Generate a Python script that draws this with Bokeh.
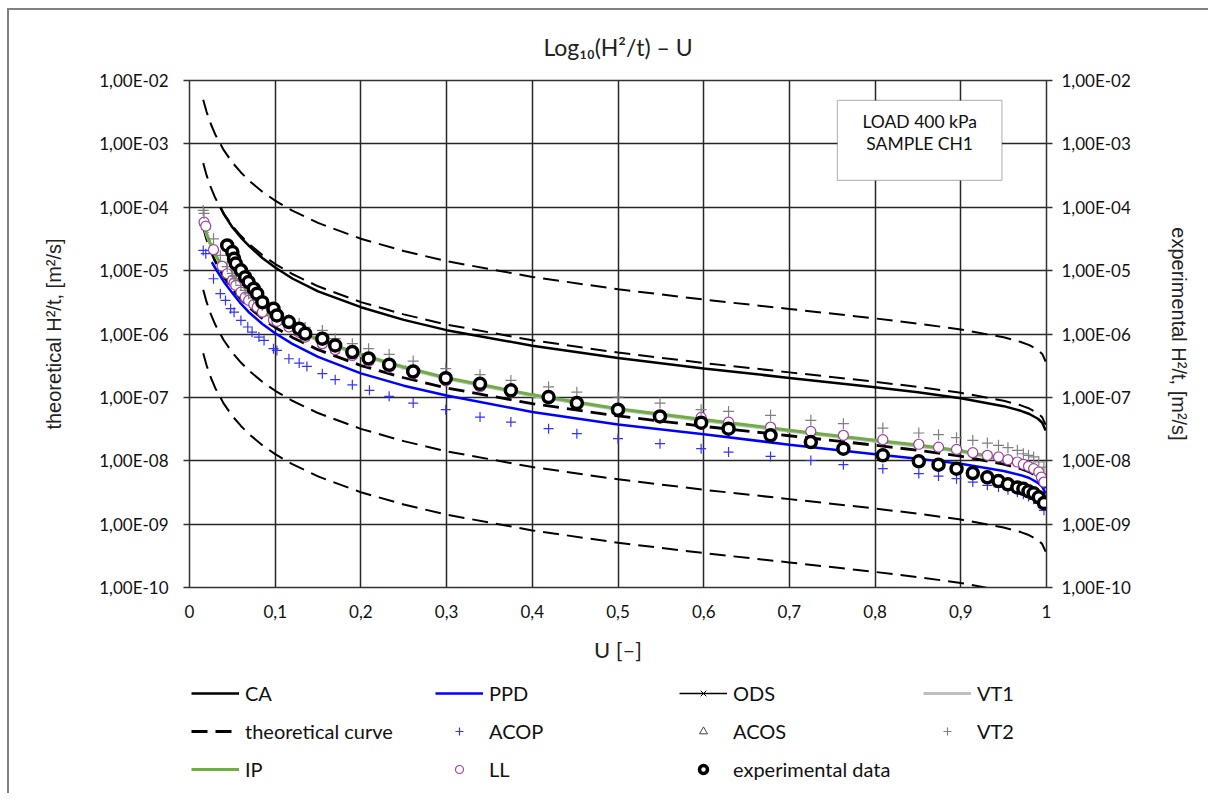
from bokeh.plotting import figure
from bokeh.layouts import column
from bokeh.models import (Range1d, LogScale, LogAxis, FixedTicker, CustomJSTickFormatter,
                          Legend, LegendItem, BoxAnnotation, Label)
from bokeh.embed import file_html
from bokeh.resources import INLINE

# ---------------- data ----------------
x_ticks = [0, 0.1, 0.2, 0.3, 0.4, 0.5, 0.6, 0.7, 0.8, 0.9, 1.0]
y_ticks = [1e-10, 1e-9, 1e-8, 1e-7, 1e-6, 1e-5, 1e-4, 1e-3, 1e-2]

u_theory = [0.016, 0.02, 0.025, 0.03, 0.04, 0.05, 0.06, 0.07, 0.085, 0.1, 0.12, 0.15, 0.2, 0.25,
            0.3, 0.4, 0.5, 0.6, 0.7, 0.8, 0.85, 0.9, 0.95, 0.97, 0.98, 0.99, 0.995, 0.999]
theory_1 = [4.97e-3, 3.18e-3, 2.04e-3, 1.41e-3, 7.96e-4, 5.09e-4, 3.54e-4, 2.60e-4, 1.76e-4, 1.27e-4,
            8.84e-5, 5.66e-5, 3.18e-5, 2.04e-5, 1.41e-5, 7.96e-6, 5.09e-6, 3.49e-6, 2.48e-6, 1.76e-6,
            1.46e-6, 1.18e-6, 8.86e-7, 7.49e-7, 6.67e-7, 5.61e-7, 4.85e-7, 3.68e-7]
theory_2 = [4.97e-4, 3.18e-4, 2.04e-4, 1.41e-4, 7.96e-5, 5.09e-5, 3.54e-5, 2.60e-5, 1.76e-5, 1.27e-5,
            8.84e-6, 5.66e-6, 3.18e-6, 2.04e-6, 1.41e-6, 7.96e-7, 5.09e-7, 3.49e-7, 2.48e-7, 1.76e-7,
            1.46e-7, 1.18e-7, 8.86e-8, 7.49e-8, 6.67e-8, 5.61e-8, 4.85e-8, 3.68e-8]
theory_3 = [4.97e-5, 3.18e-5, 2.04e-5, 1.41e-5, 7.96e-6, 5.09e-6, 3.54e-6, 2.60e-6, 1.76e-6, 1.27e-6,
            8.84e-7, 5.66e-7, 3.18e-7, 2.04e-7, 1.41e-7, 7.96e-8, 5.09e-8, 3.49e-8, 2.48e-8, 1.76e-8,
            1.46e-8, 1.18e-8, 8.86e-9, 7.49e-9, 6.67e-9, 5.61e-9, 4.85e-9, 3.68e-9]
theory_4 = [4.97e-6, 3.18e-6, 2.04e-6, 1.41e-6, 7.96e-7, 5.09e-7, 3.54e-7, 2.60e-7, 1.76e-7, 1.27e-7,
            8.84e-8, 5.66e-8, 3.18e-8, 2.04e-8, 1.41e-8, 7.96e-9, 5.09e-9, 3.49e-9, 2.48e-9, 1.76e-9,
            1.46e-9, 1.18e-9, 8.86e-10, 7.49e-10, 6.67e-10, 5.61e-10, 4.85e-10, 3.68e-10]
theory_5 = [4.97e-7, 3.18e-7, 2.04e-7, 1.41e-7, 7.96e-8, 5.09e-8, 3.54e-8, 2.60e-8, 1.76e-8, 1.27e-8,
            8.84e-9, 5.66e-9, 3.18e-9, 2.04e-9, 1.41e-9, 7.96e-10, 5.09e-10, 3.49e-10, 2.48e-10, 1.76e-10,
            1.46e-10, 1.18e-10, 8.86e-11, 7.49e-11, 6.67e-11, 5.61e-11, 4.85e-11, 3.68e-11]

u_ca = [0.036, 0.04, 0.05, 0.06, 0.07, 0.085, 0.1, 0.12, 0.15, 0.2, 0.25, 0.3, 0.4, 0.5, 0.6, 0.7,
        0.8, 0.85, 0.9, 0.95, 0.97, 0.98, 0.99, 0.995, 0.999]
ca = [1.00e-4, 7.80e-5, 4.84e-5, 3.33e-5, 2.42e-5, 1.58e-5, 1.12e-5, 7.51e-6, 4.70e-6, 2.65e-6,
      1.67e-6, 1.15e-6, 6.53e-7, 4.17e-7, 2.86e-7, 2.03e-7, 1.44e-7, 1.20e-7, 9.68e-8, 7.27e-8,
      6.14e-8, 5.47e-8, 4.60e-8, 3.98e-8, 3.00e-8]

u_ppd = [0.026, 0.03, 0.04, 0.05, 0.06, 0.07, 0.085, 0.1, 0.12, 0.15, 0.2, 0.25, 0.3, 0.4, 0.5, 0.6,
         0.7, 0.8, 0.85, 0.9, 0.95, 0.97, 0.98, 0.99, 0.995, 0.999]
ppd = [1.36e-5, 1.10e-5, 6.69e-6, 4.43e-6, 3.01e-6, 2.16e-6, 1.44e-6, 1.03e-6, 6.98e-7, 4.36e-7,
       2.39e-7, 1.53e-7, 1.07e-7, 5.89e-8, 3.72e-8, 2.62e-8, 1.79e-8, 1.27e-8, 1.08e-8, 8.97e-9,
       6.91e-9, 5.92e-9, 5.34e-9, 4.49e-9, 3.88e-9, 3.03e-9]

u_ip = [0.016, 0.02, 0.025, 0.03, 0.04, 0.05, 0.06, 0.07, 0.085, 0.1, 0.12, 0.15, 0.2, 0.25, 0.3,
        0.4, 0.5, 0.6, 0.7, 0.8, 0.85, 0.9, 0.95, 0.97, 0.98, 0.99, 0.995, 0.999]
ip = [5.57e-5, 3.82e-5, 2.55e-5, 1.83e-5, 1.03e-5, 6.62e-6, 4.60e-6, 3.43e-6, 2.34e-6, 1.71e-6,
      1.24e-6, 8.21e-7, 4.77e-7, 3.02e-7, 2.04e-7, 1.10e-7, 6.62e-8, 4.47e-8, 3.03e-8, 2.11e-8,
      1.77e-8, 1.44e-8, 1.06e-8, 8.99e-9, 8.00e-9, 6.84e-9, 6.06e-9, 4.89e-9]
vt1 = [5.35e-5, 3.67e-5, 2.45e-5, 1.76e-5, 9.89e-6, 6.36e-6, 4.42e-6, 3.29e-6, 2.25e-6, 1.64e-6,
       1.19e-6, 7.88e-7, 4.58e-7, 2.90e-7, 1.96e-7, 1.06e-7, 6.36e-8, 4.29e-8, 2.91e-8, 2.03e-8,
       1.70e-8, 1.38e-8, 1.02e-8, 8.63e-9, 7.68e-9, 6.57e-9, 5.82e-9, 4.69e-9]
ods = [5.46e-5, 3.74e-5, 2.50e-5, 1.79e-5, 1.01e-5, 6.49e-6, 4.51e-6, 3.36e-6, 2.29e-6, 1.68e-6,
       1.22e-6, 8.05e-7, 4.67e-7, 2.96e-7, 2.00e-7, 1.08e-7, 6.49e-8, 4.38e-8, 2.97e-8, 2.07e-8,
       1.73e-8, 1.41e-8, 1.04e-8, 8.81e-9, 7.84e-9, 6.70e-9, 5.94e-9, 4.79e-9]

u_exp = [0.044, 0.050, 0.052, 0.054, 0.060, 0.065, 0.069, 0.075, 0.079, 0.085, 0.098, 0.102, 0.116,
         0.128, 0.135, 0.155, 0.170, 0.190, 0.209, 0.233, 0.261, 0.299, 0.339, 0.375, 0.419, 0.452,
         0.500, 0.549, 0.597, 0.629, 0.678, 0.725, 0.763, 0.809, 0.851, 0.874, 0.895, 0.914, 0.931,
         0.944, 0.955, 0.966, 0.973, 0.979, 0.985, 0.991, 0.997]
exp_data = [2.50e-5, 1.96e-5, 1.54e-5, 1.29e-5, 1.01e-5, 7.89e-6, 6.59e-6, 5.18e-6, 4.33e-6, 3.18e-6,
            2.51e-6, 1.96e-6, 1.54e-6, 1.21e-6, 1.01e-6, 8.43e-7, 6.61e-7, 5.18e-7, 4.12e-7, 3.28e-7,
            2.57e-7, 2.01e-7, 1.64e-7, 1.29e-7, 1.01e-7, 8.13e-8, 6.40e-8, 5.01e-8, 3.99e-8, 3.21e-8,
            2.52e-8, 1.97e-8, 1.55e-8, 1.22e-8, 9.80e-9, 8.67e-9, 7.50e-9, 6.40e-9, 5.47e-9, 4.79e-9,
            4.25e-9, 3.80e-9, 3.61e-9, 3.29e-9, 3.06e-9, 2.65e-9, 2.15e-9]

u_ll = [0.017, 0.019, 0.028, 0.038, 0.044, 0.050, 0.052, 0.054, 0.060, 0.065, 0.069, 0.075, 0.079,
        0.085, 0.098, 0.102, 0.116, 0.128, 0.135, 0.155, 0.170, 0.190, 0.209, 0.233, 0.261, 0.299,
        0.339, 0.375, 0.419, 0.452, 0.500, 0.549, 0.597, 0.629, 0.678, 0.725, 0.763, 0.809, 0.851,
        0.874, 0.895, 0.914, 0.931, 0.944, 0.955, 0.966, 0.973, 0.979, 0.985, 0.991, 0.994, 0.997]
ll = [5.82e-5, 5.04e-5, 2.14e-5, 1.18e-5, 8.93e-6, 7.00e-6, 6.40e-6, 5.85e-6, 4.58e-6, 3.82e-6,
      3.39e-6, 2.93e-6, 2.65e-6, 2.21e-6, 1.67e-6, 1.58e-6, 1.29e-6, 1.06e-6, 8.93e-7, 7.03e-7,
      5.65e-7, 4.59e-7, 3.70e-7, 2.97e-7, 2.35e-7, 1.82e-7, 1.47e-7, 1.20e-7, 9.46e-8, 7.89e-8,
      6.35e-8, 5.11e-8, 4.84e-8, 4.07e-8, 3.40e-8, 2.91e-8, 2.52e-8, 2.15e-8, 1.82e-8, 1.64e-8,
      1.51e-8, 1.34e-8, 1.22e-8, 1.15e-8, 1.04e-8, 9.55e-9, 8.77e-9, 8.17e-9, 7.50e-9, 6.64e-9,
      5.53e-9, 4.61e-9]
acos = [5.70e-5, 4.95e-5, 2.10e-5, 1.16e-5, 8.80e-6, 6.90e-6, 6.30e-6, 5.75e-6, 4.50e-6, 3.76e-6,
        3.33e-6, 2.88e-6, 2.61e-6, 2.17e-6, 1.64e-6, 1.55e-6, 1.27e-6, 1.04e-6, 8.80e-7, 6.92e-7,
        5.56e-7, 4.52e-7, 3.64e-7, 2.92e-7, 2.31e-7, 1.79e-7, 1.45e-7, 1.18e-7, 9.31e-8, 7.77e-8,
        6.25e-8, 5.03e-8, 4.76e-8, 4.01e-8, 3.35e-8, 2.87e-8, 2.48e-8, 2.12e-8, 1.79e-8, 1.61e-8,
        1.49e-8, 1.32e-8, 1.20e-8, 1.13e-8, 1.02e-8, 9.40e-9, 8.63e-9, 8.04e-9, 7.38e-9, 6.54e-9,
        5.44e-9, 4.54e-9]

u_vt2 = [0.016, 0.017, 0.028, 0.036, 0.044, 0.050, 0.052, 0.054, 0.060, 0.065, 0.069, 0.075, 0.079,
         0.085, 0.098, 0.102, 0.116, 0.128, 0.135, 0.155, 0.170, 0.190, 0.209, 0.233, 0.261, 0.299,
         0.339, 0.375, 0.419, 0.452, 0.500, 0.549, 0.597, 0.629, 0.678, 0.725, 0.763, 0.809, 0.851,
         0.874, 0.895, 0.914, 0.931, 0.944, 0.955, 0.966, 0.973, 0.979, 0.985, 0.991, 0.997]
vt2 = [8.91e-5, 7.98e-5, 3.18e-5, 1.74e-5, 1.16e-5, 9.04e-6, 8.11e-6, 7.40e-6, 5.85e-6, 4.88e-6,
       4.30e-6, 3.71e-6, 3.39e-6, 2.82e-6, 2.19e-6, 2.04e-6, 1.70e-6, 1.47e-6, 1.27e-6, 1.14e-6,
       8.43e-7, 7.03e-7, 5.86e-7, 4.76e-7, 3.74e-7, 2.84e-7, 2.28e-7, 1.85e-7, 1.46e-7, 1.21e-7,
       1.01e-7, 8.13e-8, 6.40e-8, 6.01e-8, 5.20e-8, 4.34e-8, 3.85e-8, 3.28e-8, 2.74e-8, 2.58e-8,
       2.31e-8, 2.10e-8, 1.90e-8, 1.75e-8, 1.61e-8, 1.46e-8, 1.29e-8, 1.22e-8, 1.15e-8, 9.55e-9,
       7.96e-9]

u_acop = [0.016, 0.019, 0.028, 0.036, 0.042, 0.048, 0.052, 0.060, 0.068, 0.073, 0.081, 0.087, 0.098,
          0.102, 0.116, 0.128, 0.137, 0.155, 0.170, 0.190, 0.210, 0.233, 0.261, 0.299, 0.339, 0.375,
          0.419, 0.452, 0.500, 0.549, 0.597, 0.629, 0.678, 0.725, 0.763, 0.809, 0.851, 0.874, 0.895,
          0.914, 0.931, 0.944, 0.955, 0.966, 0.973, 0.979, 0.985, 0.991, 0.997]
acop = [2.08e-5, 1.85e-5, 7.45e-6, 4.33e-6, 3.39e-6, 2.51e-6, 2.21e-6, 1.64e-6, 1.29e-6, 1.07e-6,
        8.93e-7, 7.92e-7, 5.86e-7, 5.51e-7, 4.07e-7, 3.48e-7, 3.08e-7, 2.37e-7, 1.90e-7, 1.58e-7,
        1.29e-7, 1.04e-7, 8.13e-8, 6.40e-8, 4.89e-8, 4.07e-8, 3.21e-8, 2.67e-8, 2.23e-8, 1.86e-8,
        1.55e-8, 1.37e-8, 1.17e-8, 1.01e-8, 8.67e-9, 7.50e-9, 6.27e-9, 5.74e-9, 5.22e-9, 4.61e-9,
        4.09e-9, 3.85e-9, 3.50e-9, 3.18e-9, 2.95e-9, 2.74e-9, 2.46e-9, 2.13e-9, 1.65e-9]

legend_labels = ["CA", "PPD", "ODS", "VT1", "theoretical curve", "ACOP", "ACOS", "VT2",
                 "IP", "LL", "experimental data"]

# ---------------- styles ----------------
DASH = "16 8"
STY = {
    "theory": dict(line_color="black", line_width=2, line_dash=DASH),
    "theory_mid": dict(line_color="black", line_width=2.8, line_dash=DASH),
    "CA": dict(line_color="black", line_width=2.5),
    "ODS_line": dict(line_color="black", line_width=1.5),
    "ODS_pts": dict(marker="x", size=5, line_color="black", line_width=1),
    "VT1": dict(line_color="#bfbfbf", line_width=3),
    "IP": dict(line_color="#70ad47", line_width=3),
    "PPD": dict(line_color="#0000ff", line_width=2.5),
    "ACOS": dict(marker="triangle", size=9, line_color="#404040", fill_color="white", line_width=1),
    "LL": dict(marker="circle", size=10, line_color="#a040a0", fill_color="white", line_width=1.2),
    "ACOP": dict(marker="cross", size=10, line_color="#3333ff", line_width=1.2),
    "VT2": dict(marker="cross", size=11, line_color="#808080", line_width=1.2),
    "EXP": dict(marker="circle", size=11, line_color="black", fill_color="white", line_width=3.5),
}

# ---------------- main figure ----------------
TICK_FONT = "Lato"
p = figure(frame_width=857, frame_height=507, output_backend="svg", toolbar_location=None,
           x_range=Range1d(0, 1), y_range=Range1d(1e-10, 1e-2), y_axis_type="log",
           min_border_left=180, min_border_right=162, min_border_top=70, min_border_bottom=0,
           title="Log\u2081\u2080(H\u00b2/t) \u2013 U")
p.title.align = "center"
p.title.text_font = "Lato"
p.title.text_font_size = "23px"
p.title.text_font_style = "normal"
p.title.text_color = "#222222"
p.title.standoff = 40

p.outline_line_color = "#333333"
p.outline_line_width = 1.5
p.xgrid.ticker = FixedTicker(ticks=x_ticks)
p.ygrid.ticker = FixedTicker(ticks=y_ticks)
for g in (p.xgrid, p.ygrid):
    g.grid_line_color = "#262626"
    g.grid_line_width = 1.5

y_fmt = CustomJSTickFormatter(code="""
const e = Math.round(Math.log10(tick));
const a = Math.abs(e);
return '1,00E' + (e < 0 ? '-' : '+') + (a < 10 ? '0' + a : '' + a);
""")
x_fmt = CustomJSTickFormatter(code="""
const r = Math.round(tick * 10) / 10;
if (r === 0 || r === 1) { return String(r); }
return r.toFixed(1).replace('.', ',');
""")

xa = p.xaxis[0]
xa.ticker = FixedTicker(ticks=x_ticks)
xa.formatter = x_fmt
xa.axis_label = "U [\u2013]"
xa.major_tick_out = 0
xa.major_tick_in = 0
xa.minor_tick_out = 0
xa.minor_tick_in = 0
xa.axis_line_color = "#333333"
xa.major_label_standoff = 17
xa.axis_label_standoff = 15

ya = p.yaxis[0]
ya.ticker = FixedTicker(ticks=y_ticks)
ya.formatter = y_fmt
ya.axis_label = "theoretical H\u00b2/t, [m\u00b2/s]"
ya.major_tick_out = 6
ya.major_tick_in = 0
ya.minor_tick_out = 0
ya.minor_tick_in = 0
ya.axis_line_color = "#333333"
ya.major_label_standoff = 15
ya.axis_label_standoff = 31

p.extra_y_ranges = {"right": Range1d(1e-10, 1e-2)}
p.extra_y_scales = {"right": LogScale()}
ra = LogAxis(y_range_name="right", ticker=FixedTicker(ticks=y_ticks), formatter=y_fmt,
             axis_label="experimental H\u00b2/t, [m\u00b2/s]")
ra.major_tick_out = 6
ra.major_tick_in = 0
ra.minor_tick_out = 0
ra.minor_tick_in = 0
ra.axis_line_color = "#333333"
ra.major_label_standoff = 9
ra.axis_label_standoff = 34
p.add_layout(ra, "right")

for ax in (xa, ya, ra):
    ax.major_label_text_font = TICK_FONT
    ax.major_label_text_font_size = "17px"
    ax.major_label_text_color = "#111111"
    ax.axis_label_text_font_style = "normal"
    ax.axis_label_text_color = "#222222"
    ax.axis_label_text_font_size = "20px"
    ax.major_tick_line_color = "#333333"
    ax.major_tick_line_width = 1.5
xa.axis_label_text_font = "Lato"
xa.axis_label_text_font_size = "22px"
ya.axis_label_text_font = "Liberation Sans"
ra.axis_label_text_font = "Liberation Sans"


def draw_series(fig):
    """Draw every series on fig; returns the renderers keyed by legend label."""
    th = []
    for vals, key in ((theory_1, "theory"), (theory_2, "theory"), (theory_3, "theory_mid"),
                      (theory_4, "theory"), (theory_5, "theory")):
        th.append(fig.line(u_theory, vals, **STY[key]))
    out = {"theoretical curve": [th[2]]}
    out["CA"] = [fig.line(u_ca, ca, **STY["CA"])]
    out["ODS"] = [fig.line(u_ip, ods, **STY["ODS_line"]), fig.scatter(u_ip, ods, **STY["ODS_pts"])]
    out["VT1"] = [fig.line(u_ip, vt1, **STY["VT1"])]
    out["IP"] = [fig.line(u_ip, ip, **STY["IP"])]
    out["PPD"] = [fig.line(u_ppd, ppd, **STY["PPD"])]
    out["ACOS"] = [fig.scatter(u_ll, acos, **STY["ACOS"])]
    out["LL"] = [fig.scatter(u_ll, ll, **STY["LL"])]
    out["ACOP"] = [fig.scatter(u_acop, acop, **STY["ACOP"])]
    out["VT2"] = [fig.scatter(u_vt2, vt2, **STY["VT2"])]
    out["experimental data"] = [fig.scatter(u_exp, exp_data, **STY["EXP"])]
    return out


draw_series(p)

# annotation box
p.add_layout(BoxAnnotation(left=0.756, right=0.948, top=4.84e-3, bottom=2.65e-4,
                           fill_color="white", fill_alpha=1, line_color="#222222",
                           line_width=1.2, level="overlay"))
for txt, yv in (("LOAD 400 kPa", 2.28e-3), ("SAMPLE CH1", 1.0e-3)):
    p.add_layout(Label(x=0.852, y=yv, text=txt, text_align="center", text_baseline="middle",
                       text_font="Lato", text_font_size="17.5px", text_color="#111111",
                       level="overlay"))

# ---------------- legend strip: same series, ranges chosen so nothing but the legend shows ----
lg = figure(width=1199, height=128, output_backend="svg", toolbar_location=None,
            x_range=Range1d(0, 1), y_range=Range1d(1, 2),
            x_axis_location=None, y_axis_location=None,
            min_border_left=180, min_border_right=0, min_border_top=14, min_border_bottom=0)
lg.grid.visible = False
lg.outline_line_color = None
sw = draw_series(lg)
legend = Legend(items=[LegendItem(label=lab, renderers=sw[lab]) for lab in legend_labels],
                orientation="horizontal", ncols=4, location="top_left")
legend.padding = 0
legend.margin = 2
legend.border_line_color = None
legend.background_fill_alpha = 0
legend.glyph_width = 48
legend.glyph_height = 20
legend.label_standoff = 6
legend.label_width = 176
legend.spacing = 14
legend.label_text_font = "Lato"
legend.label_text_font_size = "20px"
legend.label_text_color = "#111111"
lg.add_layout(legend)

page = column(p, lg, spacing=0,
              styles={"margin-left": "7px", "margin-top": "8px",
                      "border-left": "2px solid #808080", "border-top": "2px solid #808080"})

open("out.html", "w").write(file_html(page, INLINE))
